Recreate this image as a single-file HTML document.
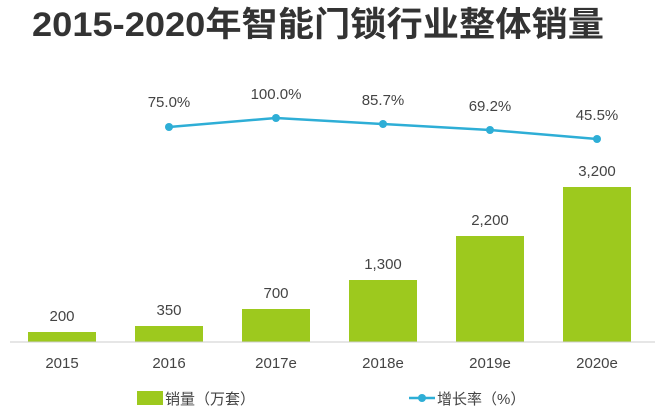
<!DOCTYPE html><html><head><meta charset="utf-8"><style>
body{margin:0;background:#fff;width:667px;height:415px;overflow:hidden}
text{font-family:"Liberation Sans","Noto Sans CJK SC",sans-serif}
</style></head><body>
<svg width="667" height="415" viewBox="0 0 667 415">
<text x="318" y="36" text-anchor="middle" font-size="34" font-weight="bold" fill="#333" textLength="572" lengthAdjust="spacingAndGlyphs">2015-2020年智能门锁行业整体销量</text>
<g fill="#9dc91e">
<rect x="28" y="332" width="68" height="10"/>
<rect x="135" y="326" width="68" height="16"/>
<rect x="242" y="309" width="68" height="33"/>
<rect x="349" y="280" width="68" height="62"/>
<rect x="456" y="236" width="68" height="106"/>
<rect x="563" y="187" width="68" height="155"/>
</g>
<line x1="10" y1="342" x2="655" y2="342" stroke="#ccc" stroke-width="1"/>
<g font-size="15" fill="#444" text-anchor="middle">
<text x="62" y="321">200</text><text x="169" y="315">350</text><text x="276" y="298">700</text>
<text x="383" y="269">1,300</text><text x="490" y="225">2,200</text><text x="597" y="176">3,200</text>
<text x="62" y="368">2015</text><text x="169" y="368">2016</text><text x="276" y="368">2017e</text>
<text x="383" y="368">2018e</text><text x="490" y="368">2019e</text><text x="597" y="368">2020e</text>
<text x="169" y="107">75.0%</text><text x="276" y="99">100.0%</text><text x="383" y="105">85.7%</text>
<text x="490" y="111">69.2%</text><text x="597" y="120">45.5%</text>
</g>
<polyline points="169,127 276,118 383,124 490,130 597,139" fill="none" stroke="#2eaed6" stroke-width="2.5"/>
<g fill="#2eaed6"><circle cx="169" cy="127" r="4"/><circle cx="276" cy="118" r="4"/><circle cx="383" cy="124" r="4"/><circle cx="490" cy="130" r="4"/><circle cx="597" cy="139" r="4"/></g>
<rect x="137" y="391" width="26" height="14" fill="#9dc91e"/>
<text x="165" y="404" font-size="15" fill="#444">销量（万套）</text>
<line x1="409" y1="398" x2="435" y2="398" stroke="#2eaed6" stroke-width="2.5"/>
<circle cx="422" cy="398" r="4" fill="#2eaed6"/>
<text x="437" y="404" font-size="15" fill="#444">增长率（%）</text>
</svg>
</body></html>
